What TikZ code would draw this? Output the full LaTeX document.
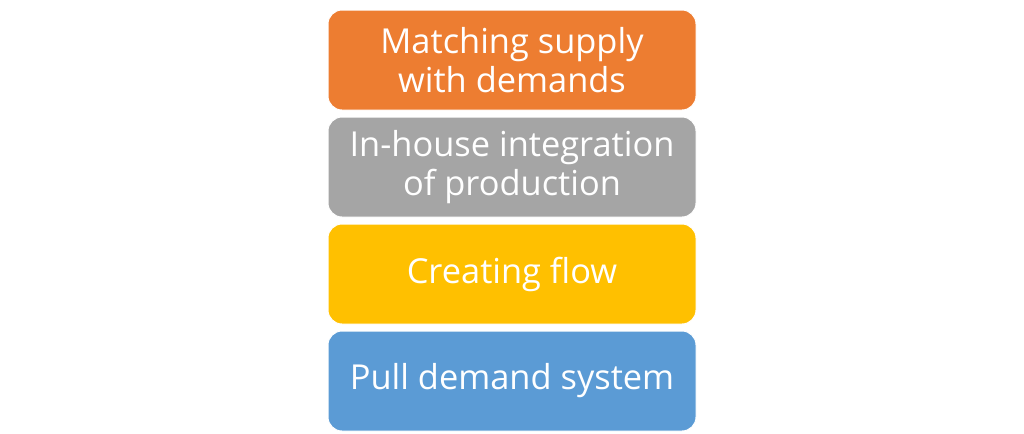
\documentclass[tikz,border=0pt]{standalone}
\usepackage{fontspec}
\setmainfont{Open Sans}
\usetikzlibrary{positioning}
\definecolor{boxorange}{HTML}{ED7D31}
\definecolor{boxgray}{HTML}{A5A5A5}
\definecolor{boxyellow}{HTML}{FFC000}
\definecolor{boxblue}{HTML}{5B9BD5}
\tikzset{
block/.style={
  draw=white,
  line width=0.75pt,
  rectangle,
  rounded corners=10.5pt,
  text=white,
  align=center,
  font=\fontsize{25.8}{29}\selectfont,
  minimum width=276pt,
  minimum height=75pt,
  inner sep=0pt,
  outer sep=0pt,
  node distance=5.25pt
  }
}
\begin{document}
\begin{tikzpicture}
\useasboundingbox (0,0) rectangle (768pt,-324.75pt);
\node[block, fill=boxorange, anchor=north] (match) at (384pt,-7.5pt) {Matching supply\\with demands};
\node[block, fill=boxgray, below=of match] (inhouse) {In-house integration\\of production};
\node[block, fill=boxyellow, below=of inhouse] (flow) {Creating flow};
\node[block, fill=boxblue, below=of flow] (pull) {Pull demand system};
\end{tikzpicture}
\end{document}
